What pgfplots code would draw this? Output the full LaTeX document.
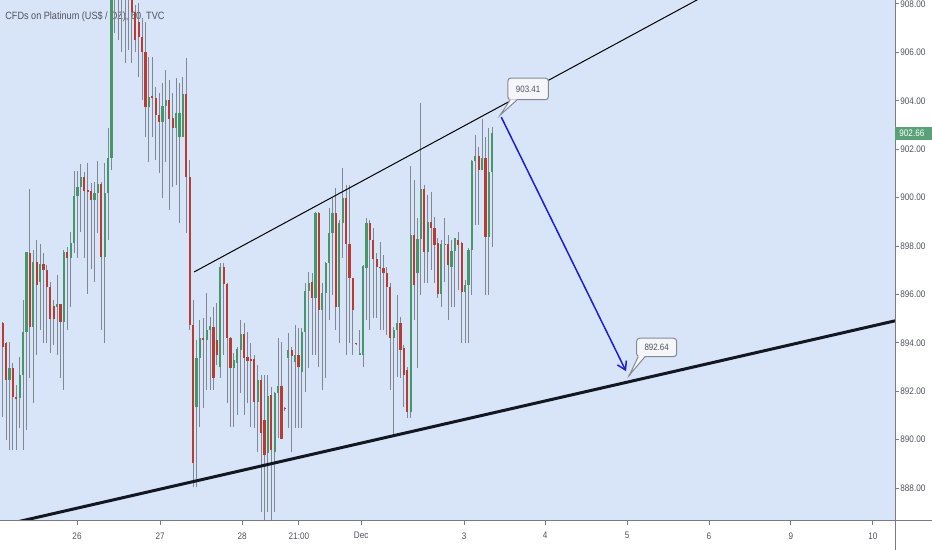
\documentclass[border=0pt]{standalone}
\usepackage{fontspec}
\setmainfont{Liberation Sans}[FakeStretch=0.86]
\usepackage{pgfplots}
\usepackage{pgfplotstable}
\pgfplotsset{compat=1.18}
\usetikzlibrary{arrows.meta}

\definecolor{bg}{RGB}{216,229,248}
\definecolor{upc}{RGB}{70,150,105}
\definecolor{dnc}{RGB}{185,60,50}
\definecolor{wick}{RGB}{128,136,148}
\definecolor{axgray}{RGB}{120,123,134}
\definecolor{txt}{RGB}{80,82,92}
\definecolor{trend}{RGB}{19,23,34}
\definecolor{arrowblue}{RGB}{30,30,215}
\definecolor{lastc}{RGB}{90,160,120}
\definecolor{boxfill}{RGB}{244,246,250}
\definecolor{boxgray}{RGB}{135,137,145}

\newcommand{\tickfont}{\fontsize{4.75pt}{5pt}\selectfont}
\newcommand{\labfont}{\fontsize{4.6pt}{5pt}\selectfont}

% hourly candles, x = bar number
\pgfplotstableread{
x o h l c
0 894.82 894.86 890.93 893.83
1 893.99 894.03 889.98 892.46
2 892.46 894.03 889.57 892.96
3 892.96 893.17 889.57 891.76
4 891.76 892.26 889.57 891.68
5 891.72 893.41 890.48 892.67
6 892.67 895.77 889.57 894.45
7 894.45 897.75 890.40 897.75
8 897.71 900.36 892.55 894.65
9 894.65 897.83 891.51 897.34
10 897.34 898.25 893.50 896.39
11 896.51 898.08 894.53 897.26
12 897.26 897.71 893.99 897.01
13 897.01 897.21 893.99 896.30
14 896.30 896.51 893.58 894.98
15 895.52 895.77 893.91 894.98
16 895.48 896.80 893.50 895.60
17 895.60 895.60 892.55 894.86
18 894.86 897.83 892.05 897.75
19 897.75 897.96 894.53 897.50
20 897.50 898.58 895.48 898.12
21 898.12 901.10 897.71 900.07
22 900.07 901.10 897.50 900.44
23 900.44 901.39 898.58 900.85
24 900.85 901.06 897.50 900.27
25 900.31 901.43 896.02 900.23
26 900.27 900.60 897.05 899.90
27 899.90 900.64 896.51 900.19
28 900.19 901.51 898.54 900.56
29 900.56 900.64 894.53 897.55
30 897.55 901.43 893.99 900.19
31 900.19 902.88 898.25 901.64
32 901.64 909.80 901.14 909.20
33 909.00 910.00 906.80 909.60
34 909.60 910.20 906.51 909.20
35 909.20 909.80 906.02 908.60
36 908.60 909.50 905.56 909.00
37 909.00 909.40 906.10 908.50
38 908.50 908.90 905.56 907.67
39 907.67 907.96 906.02 906.51
40 907.26 908.04 904.98 906.64
41 906.64 907.34 904.03 906.02
42 906.02 907.26 902.50 903.74
43 903.74 905.81 901.47 904.16
44 904.16 905.81 902.50 904.12
45 904.12 904.57 901.55 903.41
46 903.41 904.32 901.02 903.12
47 903.12 904.74 899.98 903.78
48 903.78 905.27 901.47 904.03
49 904.03 904.86 899.49 903.25
50 903.29 904.32 900.44 902.87
51 902.87 904.94 900.52 903.50
52 902.50 904.74 898.95 903.50
53 902.50 904.98 902.50 904.28
54 904.28 905.77 898.54 900.85
55 900.85 901.55 894.53 894.73
56 894.73 895.77 888.04 889.03
57 891.35 894.12 888.04 893.37
58 893.37 894.94 890.52 894.20
59 894.20 895.02 891.31 894.12
60 894.12 896.06 892.05 894.53
61 894.53 895.07 892.05 894.69
62 894.65 895.48 892.05 892.55
63 894.12 895.64 893.08 893.50
64 893.00 897.30 892.55 897.13
65 897.13 897.30 893.50 896.43
66 896.43 896.47 891.51 894.20
67 894.20 894.24 890.52 892.96
68 892.96 893.58 890.52 893.29
69 893.17 893.83 891.02 893.74
70 893.70 894.94 891.93 894.36
71 894.36 894.82 891.02 893.37
72 893.41 894.45 891.51 893.25
73 893.33 893.99 890.52 893.25
74 893.33 893.50 890.48 891.55
75 891.55 893.08 889.49 892.46
76 892.46 892.67 887.01 890.27
77 890.81 892.67 886.55 889.36
78 889.45 892.67 887.01 891.80
79 891.84 892.17 886.55 889.57
80 889.49 891.97 887.01 891.93
81 891.93 894.20 890.07 892.21
82 892.21 894.03 890.03 890.03
83 891.26 891.35 891.18 891.26
84 893.37 894.40 890.48 893.70
85 893.70 893.83 889.49 893.45
86 893.21 894.73 890.48 893.50
87 893.50 894.61 890.48 893.00
88 892.79 894.61 890.48 894.45
89 894.45 896.47 891.97 896.14
90 896.14 896.93 892.96 896.47
91 896.51 896.88 893.50 895.85
92 895.85 899.40 893.50 899.36
93 899.36 899.40 893.00 895.36
94 895.36 896.47 892.05 896.06
95 896.06 897.34 892.55 897.30
96 897.30 899.57 894.94 898.54
97 898.54 899.98 895.98 899.36
98 899.36 900.40 894.53 895.48
99 895.48 899.07 893.99 898.95
100 898.95 901.22 897.50 899.98
101 899.98 900.52 893.50 898.08
102 898.08 900.52 893.99 896.68
103 896.68 896.68 893.50 895.36
104 893.95 894.00 893.91 893.95
105 893.50 894.53 893.50 893.58
106 893.50 897.21 893.00 897.17
107 897.09 899.16 894.94 898.95
108 898.95 899.07 894.53 898.25
109 898.25 898.74 895.02 897.46
110 897.46 897.71 895.02 897.13
111 897.13 898.17 894.53 897.09
112 897.09 897.63 894.53 896.88
113 896.88 897.13 894.32 896.30
114 896.30 896.47 892.05 894.20
115 894.20 894.65 890.11 894.53
116 894.53 895.98 892.59 894.82
117 894.82 895.07 892.55 893.70
118 893.78 893.91 891.35 892.67
119 892.88 893.00 890.89 891.14
120 891.14 901.30 890.89 898.45
121 898.45 900.73 894.94 896.39
122 896.88 899.16 892.96 898.29
123 898.29 903.91 895.98 900.36
124 900.36 900.52 896.47 897.75
125 897.75 900.11 896.47 898.99
126 898.99 900.23 897.01 898.74
127 898.74 899.20 896.47 898.04
128 898.12 898.33 895.85 896.02
129 896.02 898.25 895.48 898.08
130 898.04 899.16 896.51 898.08
131 898.08 898.45 894.94 897.21
132 897.13 898.25 895.48 897.79
133 897.79 898.33 895.48 898.33
134 898.25 898.58 896.18 898.04
135 898.12 898.17 893.99 896.10
136 896.10 896.59 893.99 896.39
137 896.39 897.92 893.99 897.83
138 897.83 901.55 895.98 901.51
139 901.51 902.59 898.87 901.72
140 901.72 902.09 898.87 901.14
141 901.14 903.25 901.14 901.64
142 901.64 902.50 895.98 898.37
143 898.37 902.88 895.98 901.06
144 901.06 902.92 897.96 902.66
}\candles

\begin{document}
\begin{tikzpicture}
\fill[bg] (0,0) rectangle (447.5pt,260.5pt);
\node[anchor=west, inner sep=0pt, text=txt, font=\fontsize{5.3pt}{6pt}\selectfont]
  at (2.5pt,252pt) {CFDs on Platinum (US\$ / OZ), 60, TVC};
\begin{axis}[
  at={(0,0)}, anchor=south west,
  scale only axis, width=447.5pt, height=260.5pt,
  xmin=-0.8, xmax=262.4, ymin=886.64, ymax=908.165,
  axis line style={draw=none},
  tick align=outside, major tick length=2pt,
  tick style={axgray, line width=0.5pt},
  xtick={21.85,46.3,70.4,87.1,105.4,135.7,159.5,183.6,207.7,231.8,255.9},
  xticklabels={26,27,28,21:00,Dec,3,4,5,6,9,10},
  xtick pos=left,
  ytick={888,890,...,908},
  ytick pos=right, yticklabel pos=right,
  /pgf/number format/assume math mode=true,
  ticklabel style={font=\tickfont, text=txt},
  xticklabel style={anchor=north, inner sep=0pt, yshift=-3.5pt},
  yticklabel style={anchor=west, inner sep=0pt, xshift=0.5pt,
    /pgf/number format/fixed, /pgf/number format/fixed zerofill,
    /pgf/number format/precision=2, /pgf/number format/1000 sep={}},
  minor tick num=0,
]
% wicks
\addplot[draw=none, mark=none, forget plot,
  error bars/.cd, y dir=plus, y explicit, error mark=none,
  error bar style={draw=wick, line width=0.5pt}]
  table[x=x, y=l, y error plus expr={\thisrow{h}-\thisrow{l}}] {\candles};
% up bodies
\addplot[draw=none, mark=none, forget plot,
  restrict expr to domain={\thisrow{c}-\thisrow{o}}{0:100},
  error bars/.cd, y dir=plus, y explicit, error mark=none,
  error bar style={draw=upc, line width=1.1pt}]
  table[x=x, y expr={min(\thisrow{o},\thisrow{c})},
        y error plus expr={max(abs(\thisrow{c}-\thisrow{o}),0.06)}] {\candles};
% down bodies
\addplot[draw=none, mark=none, forget plot,
  restrict expr to domain={\thisrow{c}-\thisrow{o}}{-100:0},
  error bars/.cd, y dir=plus, y explicit, error mark=none,
  error bar style={draw=dnc, line width=1.1pt}]
  table[x=x, y expr={min(\thisrow{o},\thisrow{c})},
        y error plus expr={max(abs(\thisrow{c}-\thisrow{o}),0.06)}] {\candles};

% trend lines
\addplot[black, line width=0.5pt] coordinates {(56.3,896.93) (210,908.61)};
\addplot[trend, line width=1.5pt] coordinates {(-0.8,886.44) (262.4,894.91)};
% projected move
\addplot[arrowblue, line width=0.75pt, -{Straight Barb[length=4pt,width=5pt]}]
  coordinates {(146.6,903.33) (183.3,892.83)};

% callouts
\node[fill=boxfill, draw=boxgray, rounded corners=1.5pt, line width=0.5pt,
  minimum width=20.3pt, minimum height=10.8pt, inner sep=0pt, text=txt, font=\labfont]
  at (axis cs:154.5,904.49) {903.41};
\fill[boxfill] (axis cs:149.2,904.06) -- (axis cs:146.3,903.41) -- (axis cs:151.2,904.06) -- cycle;
\draw[boxgray, line width=0.5pt] (axis cs:149.2,904.03) -- (axis cs:146.3,903.41) -- (axis cs:151.2,904.03);

\node[fill=boxfill, draw=boxgray, rounded corners=1.5pt, line width=0.5pt,
  minimum width=20pt, minimum height=9.2pt, inner sep=0pt, text=txt, font=\labfont]
  at (axis cs:192.3,893.81) {892.64};
\fill[boxfill] (axis cs:186.9,893.46) -- (axis cs:184.3,892.67) -- (axis cs:188.9,893.46) -- cycle;
\draw[boxgray, line width=0.5pt] (axis cs:186.9,893.43) -- (axis cs:184.3,892.67) -- (axis cs:188.9,893.43);
\fill[boxgray] (axis cs:184.3,892.67) circle[radius=0.6pt];

\coordinate (lastp) at (axis cs:262.4,902.66);
\end{axis}
\draw[axgray, line width=0.5pt] (0,0) -- (466pt,0);
\draw[axgray, line width=0.5pt] (447.5pt,-14.5pt) -- (447.5pt,260.5pt);
\fill[lastc] ([yshift=-3.35pt]lastp) rectangle ++(18.5pt,6.7pt);
\node[anchor=west, inner sep=0pt, text=white, font=\tickfont] at ([xshift=2pt]lastp) {902.66};
\pgfresetboundingbox
\path[use as bounding box] (0,-14.5pt) rectangle (466pt,260.5pt);
\end{tikzpicture}
\end{document}
